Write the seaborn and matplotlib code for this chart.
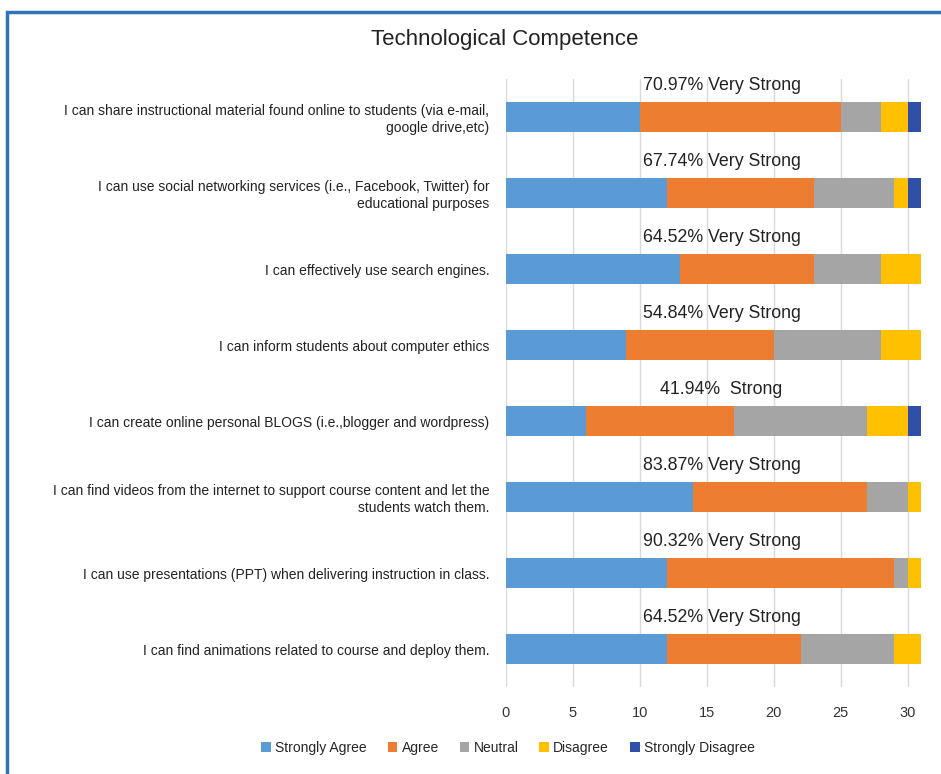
import matplotlib
matplotlib.use("Agg")
import matplotlib.pyplot as plt
import seaborn as sns
import pandas as pd
import numpy as np
from matplotlib.patches import Rectangle, Patch

statements = [
    "I can share instructional material found online to students (via e-mail,\ngoogle drive,etc)",
    "I can use social networking services (i.e., Facebook, Twitter) for\neducational purposes",
    "I can effectively use search engines.",
    "I can inform students about computer ethics",
    "I can create online personal BLOGS (i.e.,blogger and wordpress)",
    "I can find videos from the internet to support course content and let the\nstudents watch them.",
    "I can use presentations (PPT) when delivering instruction in class.",
    "I can find animations related to course and deploy them.",
]
strongly_agree = [10, 12, 13, 9, 6, 14, 12, 12]
agree = [15, 11, 10, 11, 11, 13, 17, 10]
neutral = [3, 6, 5, 8, 10, 3, 1, 7]
disagree = [2, 1, 3, 3, 3, 1, 1, 2]
strongly_disagree = [1, 1, 0, 0, 1, 0, 0, 0]
annotations = ["70.97% Very Strong", "67.74% Very Strong", "64.52% Very Strong",
               "54.84% Very Strong", "41.94%  Strong", "83.87% Very Strong",
               "90.32% Very Strong", "64.52% Very Strong"]
series_names = ["Strongly Agree", "Agree", "Neutral", "Disagree", "Strongly Disagree"]
series_colors = ["#5B9BD5", "#ED7D31", "#A5A5A5", "#FFC000", "#2F4FA8"]
x_ticks = [0, 5, 10, 15, 20, 25, 30]

sns.set_theme(style="white")
plt.rcParams['font.family'] = ['Liberation Sans Narrow', 'Liberation Sans', 'DejaVu Sans']

df = pd.DataFrame({"statement": statements,
                   "Strongly Agree": strongly_agree, "Agree": agree,
                   "Neutral": neutral, "Disagree": disagree,
                   "Strongly Disagree": strongly_disagree})
cum = df[series_names].cumsum(axis=1)

fig = plt.figure(figsize=(9.41, 7.74), dpi=100)
ax = fig.add_axes([506/941, 1-687/774, (925-506)/941, (687-79)/774])

for name, color in reversed(list(zip(series_names, series_colors))):
    sns.barplot(x=cum[name], y=df["statement"], color=color, orient="h",
                width=0.39, ax=ax, saturation=1, linewidth=0, zorder=3)

ax.set_xlim(0, 31.3)
ax.set_ylim(7.5, -0.5)
ax.set_xticks(x_ticks)
ax.set_xlabel("")
ax.set_ylabel("")
ax.tick_params(axis="x", labelsize=10.5, colors="#333333", length=0, pad=14)
ax.tick_params(axis="y", labelsize=10, colors="#222222", length=0, pad=12)
for lbl in ax.get_yticklabels():
    lbl.set_multialignment("right")
ax.grid(axis="x", color="#D9D9D9", linewidth=1, zorder=0)
ax.grid(axis="y", visible=False)
for s in ax.spines.values():
    s.set_visible(False)

for i, txt in enumerate(annotations):
    ax.text(16.1, i - 0.42, txt, ha="center", va="center", fontsize=12.8,
            color="#222222", zorder=4)

fig.text(505/941, 1-40/774, "Technological Competence", ha="center", va="center",
         fontsize=16, color="#222222")

handles = [Patch(facecolor=c, edgecolor="none", label=n) for n, c in zip(series_names, series_colors)]
fig.legend(handles=handles, loc="center", bbox_to_anchor=(508/941, 1-748/774), ncol=5,
           frameon=False, fontsize=10, handlelength=0.7, handleheight=0.7,
           handletextpad=0.3, columnspacing=1.5)

fig.patches.append(Rectangle((7/941, -0.02), 1.02, 1-12/774+0.02, transform=fig.transFigure,
                             fill=False, edgecolor="#2E75B6", linewidth=2.5, zorder=10))

fig.savefig("out.png", dpi=100)
